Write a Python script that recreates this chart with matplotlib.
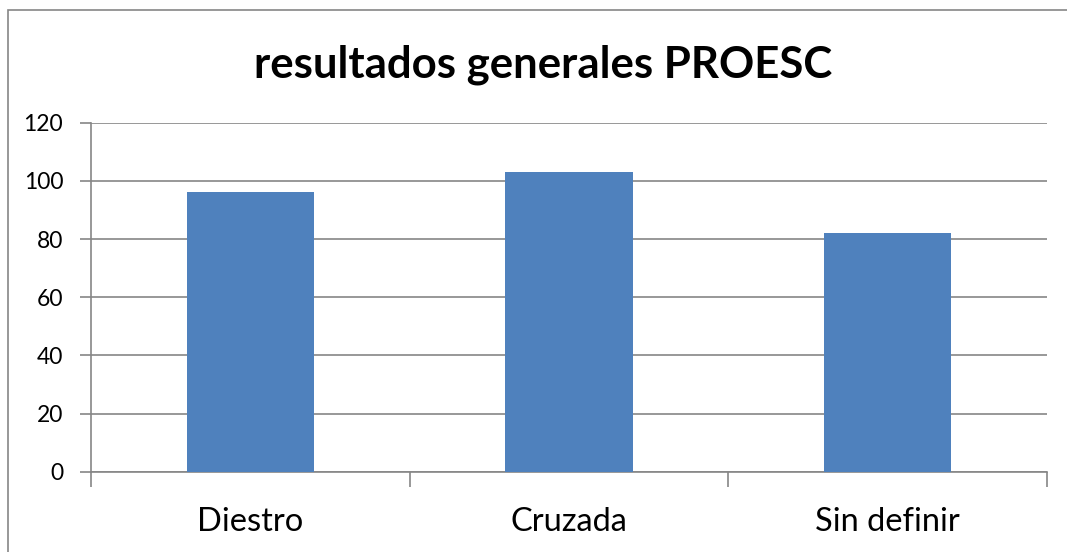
import matplotlib
matplotlib.use("Agg")
import matplotlib.pyplot as plt
from matplotlib.patches import Rectangle

categories = ["Diestro", "Cruzada", "Sin definir"]
values = [96, 103, 82]
yticks = [0, 20, 40, 60, 80, 100, 120]

FONT = "Lato"
W, H = 1067, 552
fig = plt.figure(figsize=(W / 100, H / 100), dpi=100)
fig.patch.set_facecolor("white")

# outer chart border
fig.add_artist(Rectangle((8 / W, -0.05), 1.2, 1 - 10 / H + 0.05,
                         transform=fig.transFigure, fill=False,
                         edgecolor="#868686", linewidth=1.2))

ax = fig.add_axes([91 / W, 1 - 471.7 / H, (1047 - 91) / W, (471.7 - 122.7) / H])
x = list(range(len(categories)))
ax.bar(x, values, width=0.4, color="#4F81BD", zorder=3)
ax.set_xlim(-0.5, len(categories) - 0.5)
ax.set_ylim(0, 120)
ax.set_yticks(yticks)
ax.set_yticklabels([str(t) for t in yticks], fontsize=16.5, family=FONT)
ax.yaxis.grid(True, color="#868686", linewidth=1.2, zorder=0)
for s in ["top", "right"]:
    ax.spines[s].set_visible(False)
for s in ["left", "bottom"]:
    ax.spines[s].set_color("#868686")
    ax.spines[s].set_linewidth(1.2)
ax.tick_params(axis="y", length=8, width=1.2, color="#868686", pad=12)
ax.set_xticks([-0.5, 0.5, 1.5, 2.5])
ax.set_xticklabels([])
ax.tick_params(axis="x", length=11, width=1.2, color="#868686")
for i, c in enumerate(categories):
    ax.text(i, -0.1, c, transform=ax.get_xaxis_transform(), ha="center", va="top",
            fontsize=23.5, family=FONT)

fig.text(543 / W, 1 - 65 / H, "resultados generales PROESC", ha="center", va="center",
         fontsize=31.5, fontweight="bold", family=FONT)

fig.savefig("out.png", dpi=100)
